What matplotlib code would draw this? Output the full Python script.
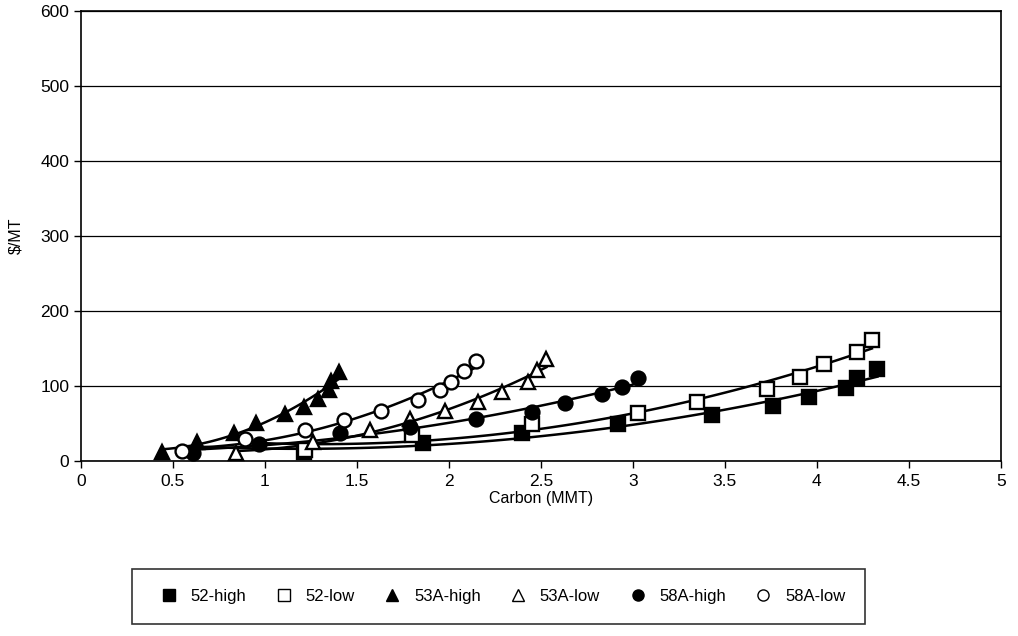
import numpy as np
import matplotlib
matplotlib.use("Agg")
import matplotlib.pyplot as plt

plt.rcParams['font.family'] = ['Liberation Sans', 'DejaVu Sans']

# Datos
x_52h = [1.21, 1.86, 2.40, 2.92, 3.43, 3.76, 3.96, 4.16, 4.22, 4.33]
y_52h = [12, 24, 37, 49, 61, 73, 85, 97, 111, 123]

x_52l = [1.22, 1.80, 2.45, 3.03, 3.35, 3.73, 3.91, 4.04, 4.22, 4.30]
y_52l = [15, 35, 49, 64, 79, 96, 112, 129, 145, 161]

x_53ah = [0.44, 0.63, 0.83, 0.95, 1.11, 1.21, 1.29, 1.35, 1.36, 1.40]
y_53ah = [12, 26, 37, 51, 63, 72, 83, 95, 107, 119]

x_53al = [0.84, 1.26, 1.57, 1.79, 1.98, 2.16, 2.29, 2.43, 2.48, 2.53]
y_53al = [11, 25, 41, 56, 67, 79, 92, 105, 121, 136]

x_58ah = [0.61, 0.97, 1.41, 1.79, 2.15, 2.45, 2.63, 2.83, 2.94, 3.03]
y_58ah = [11, 23, 37, 45, 56, 65, 77, 89, 99, 111]

x_58al = [0.55, 0.89, 1.22, 1.43, 1.63, 1.83, 1.95, 2.01, 2.08, 2.15]
y_58al = [13, 29, 41, 55, 67, 81, 95, 105, 120, 133]

etiquetas = ["52-high", "52-low", "53A-high", "53A-low", "58A-high", "58A-low"]
xticks = [0, 0.5, 1, 1.5, 2, 2.5, 3, 3.5, 4, 4.5, 5]
yticks = [0, 100, 200, 300, 400, 500, 600]

series = [
    (x_52h, y_52h, "s", "black", 0.58),
    (x_52l, y_52l, "s", "white", 1.0),
    (x_53ah, y_53ah, "^", "black", 0.44),
    (x_53al, y_53al, "^", "white", 0.84),
    (x_58ah, y_58ah, "o", "black", 0.58),
    (x_58al, y_58al, "o", "white", 0.55),
]

fig = plt.figure(figsize=(10.18, 6.36), dpi=100)
ax = fig.add_axes([0.0796, 0.275, 0.9034, 0.708])

for (xs, ys, m, fc, x0), lab in zip(series, etiquetas):
    # línea de tendencia (polinómica de orden 2)
    c = np.polyfit(xs, ys, 2)
    xx = np.linspace(x0, max(xs), 100)
    ax.plot(xx, np.polyval(c, xx), color="black", lw=1.8, zorder=2)
    ax.plot(xs, ys, linestyle="none", marker=m, markersize=10,
            markerfacecolor=fc, markeredgecolor="black", markeredgewidth=1.7,
            label=lab, zorder=3)

ax.set_xlim(0, 5)
ax.set_ylim(0, 600)
ax.set_xticks(xticks)
ax.set_xticklabels([f"{t:g}" for t in xticks])
ax.set_yticks(yticks)
ax.tick_params(labelsize=12.5, direction="out", length=5, width=1)
ax.tick_params(axis="x", pad=4)
ax.yaxis.grid(True, color="black", lw=0.9)
ax.set_axisbelow(True)
for s in ax.spines.values():
    s.set_color("black")
    s.set_linewidth(1.2)

ax.set_xlabel("Carbon (MMT)", fontsize=11.5, labelpad=2)
ax.set_ylabel("$/MT", fontsize=11.5, labelpad=12)

leg = fig.legend(loc="center", bbox_to_anchor=(0.49, 0.062), ncol=6,
                 fontsize=12, frameon=True, fancybox=False,
                 edgecolor="black", handletextpad=0.3, columnspacing=1.25,
                 borderpad=1.2, markerscale=0.8)
leg.get_frame().set_linewidth(1.2)
for h in leg.legend_handles:
    h.set_markeredgewidth(1.0)

fig.savefig("out.png", dpi=100)
